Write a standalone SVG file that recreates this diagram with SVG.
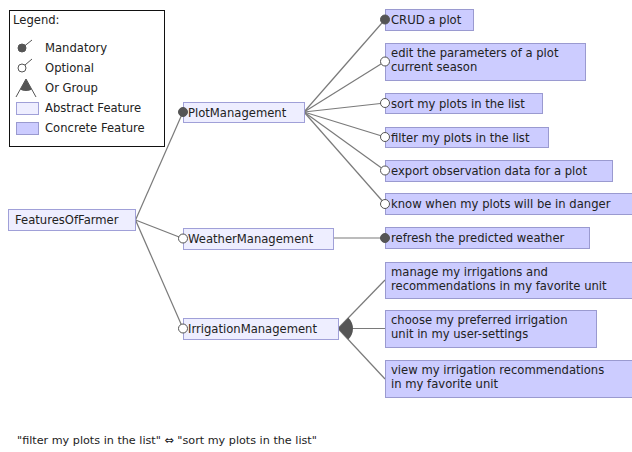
<svg xmlns="http://www.w3.org/2000/svg" width="632" height="452" viewBox="0 0 632 452">
<style>
text{font-family:"DejaVu Sans",Verdana,sans-serif;font-size:11.6px;fill:#222}
.abs{fill:#eeeeff;stroke:#a0a0d8;stroke-width:1}
.con{fill:#ccccff;stroke:#9a9ad0;stroke-width:1}
.edge{stroke:#7a7a7a;stroke-width:1.2;fill:none}
.man{fill:#555;stroke:#555;stroke-width:1}
.opt{fill:#fff;stroke:#555;stroke-width:1}
.or{fill:#555;stroke:none}
.small{font-size:11.2px}
</style>
<rect width="632" height="452" fill="#fff"/>
<g id="connectors">
<line class="edge" x1="135.5" y1="220" x2="183" y2="112"/>
<line class="edge" x1="135.5" y1="220" x2="183" y2="238.5"/>
<line class="edge" x1="135.5" y1="220" x2="183" y2="328.5"/>
<line class="edge" x1="304" y1="112" x2="385" y2="19.5"/>
<line class="edge" x1="304" y1="112" x2="385" y2="61.5"/>
<line class="edge" x1="304" y1="112" x2="385" y2="103"/>
<line class="edge" x1="304" y1="112" x2="385" y2="137"/>
<line class="edge" x1="304" y1="112" x2="385" y2="170.5"/>
<line class="edge" x1="304" y1="112" x2="385" y2="204"/>
<line class="edge" x1="334" y1="238" x2="385" y2="238"/>
<line class="edge" x1="338" y1="328.5" x2="385" y2="280"/>
<line class="edge" x1="338" y1="328.5" x2="385" y2="328.5"/>
<line class="edge" x1="338" y1="328.5" x2="385" y2="379"/>
<path class="or" d="M338,328.5 L348.4,317.7 A15,15 0 0,1 348.3,339.4 Z"/>
</g>
<g id="legend">
<rect x="9.5" y="10.5" width="155" height="136" fill="#fff" stroke="#111" stroke-width="1"/>
<text x="13" y="24">Legend:</text>
<line x1="22" y1="48" x2="32" y2="40" stroke="#555" stroke-width="1"/>
<circle class="man" cx="22" cy="48" r="4"/>
<text x="45" y="52">Mandatory</text>
<line x1="25" y1="65" x2="32" y2="59" stroke="#555" stroke-width="1"/>
<circle class="opt" cx="22" cy="68" r="4"/>
<text x="45" y="72">Optional</text>
<line x1="26" y1="79" x2="16" y2="97" stroke="#555" stroke-width="1"/>
<line x1="26" y1="79" x2="36" y2="97" stroke="#555" stroke-width="1"/>
<path class="or" d="M26,79 L20.2,89.5 A12,12 0 0,0 31.8,89.5 Z"/>
<text x="45" y="92">Or Group</text>
<rect class="abs" x="16.5" y="102.5" width="22" height="12"/>
<text x="45" y="112">Abstract Feature</text>
<rect class="con" x="16.5" y="122.5" width="22" height="12"/>
<text x="45" y="132">Concrete Feature</text>
</g>
<g id="FeaturesOfFarmer">
<rect class="abs" x="8.5" y="209.5" width="127" height="21"/>
<text x="15" y="224">FeaturesOfFarmer</text>
</g>
<g id="PlotManagement">
<rect class="abs" x="183.5" y="102.5" width="121" height="20"/>
<circle class="man" cx="183" cy="112" r="4.5"/>
<text x="188" y="117">PlotManagement</text>
</g>
<g id="WeatherManagement">
<rect class="abs" x="183.5" y="228.5" width="150" height="21"/>
<circle class="opt" cx="183" cy="238.5" r="4.5"/>
<text x="188" y="243">WeatherManagement</text>
</g>
<g id="IrrigationManagement">
<rect class="abs" x="183.5" y="318.5" width="155" height="21"/>
<circle class="opt" cx="183" cy="328.5" r="4.5"/>
<text x="188" y="333">IrrigationManagement</text>
</g>
<g id="CRUD">
<rect class="con" x="385.5" y="9.5" width="88" height="21"/>
<circle class="man" cx="385" cy="19.5" r="4.5"/>
<text x="391" y="24">CRUD a plot</text>
</g>
<g id="EditParams">
<rect class="con" x="385.5" y="43.5" width="200" height="37"/>
<circle class="opt" cx="385" cy="61.5" r="4.5"/>
<text x="391" y="57">edit the parameters of a plot</text>
<text x="391" y="71">current season</text>
</g>
<g id="SortPlots">
<rect class="con" x="385.5" y="93.5" width="157" height="20"/>
<circle class="opt" cx="385" cy="103" r="4.5"/>
<text x="391" y="108">sort my plots in the list</text>
</g>
<g id="FilterPlots">
<rect class="con" x="385.5" y="127.5" width="163" height="20"/>
<circle class="opt" cx="385" cy="137" r="4.5"/>
<text x="391" y="142">filter my plots in the list</text>
</g>
<g id="ExportData">
<rect class="con" x="385.5" y="160.5" width="227" height="21"/>
<circle class="opt" cx="385" cy="170.5" r="4.5"/>
<text x="391" y="175">export observation data for a plot</text>
</g>
<g id="KnowDanger">
<rect class="con" x="385.5" y="193.5" width="250" height="21"/>
<circle class="opt" cx="385" cy="204" r="4.5"/>
<text x="391" y="208">know when my plots will be in danger</text>
</g>
<g id="RefreshWeather">
<rect class="con" x="385.5" y="227.5" width="204" height="21"/>
<circle class="man" cx="385" cy="238" r="4.5"/>
<text x="391" y="242">refresh the predicted weather</text>
</g>
<g id="ManageIrrigations">
<rect class="con" x="385.5" y="262.5" width="250" height="36"/>
<text x="391" y="276">manage my irrigations and</text>
<text x="391" y="290">recommendations in my favorite unit</text>
</g>
<g id="ChooseUnit">
<rect class="con" x="385.5" y="310.5" width="211" height="37"/>
<text x="391" y="324">choose my preferred irrigation</text>
<text x="391" y="338">unit in my user-settings</text>
</g>
<g id="ViewRecommendations">
<rect class="con" x="385.5" y="360.5" width="250" height="37"/>
<text x="391" y="374">view my irrigation recommendations</text>
<text x="391" y="388">in my favorite unit</text>
</g>
<text class="small" x="17" y="444">"filter my plots in the list" ⇔ "sort my plots in the list"</text>
</svg>
